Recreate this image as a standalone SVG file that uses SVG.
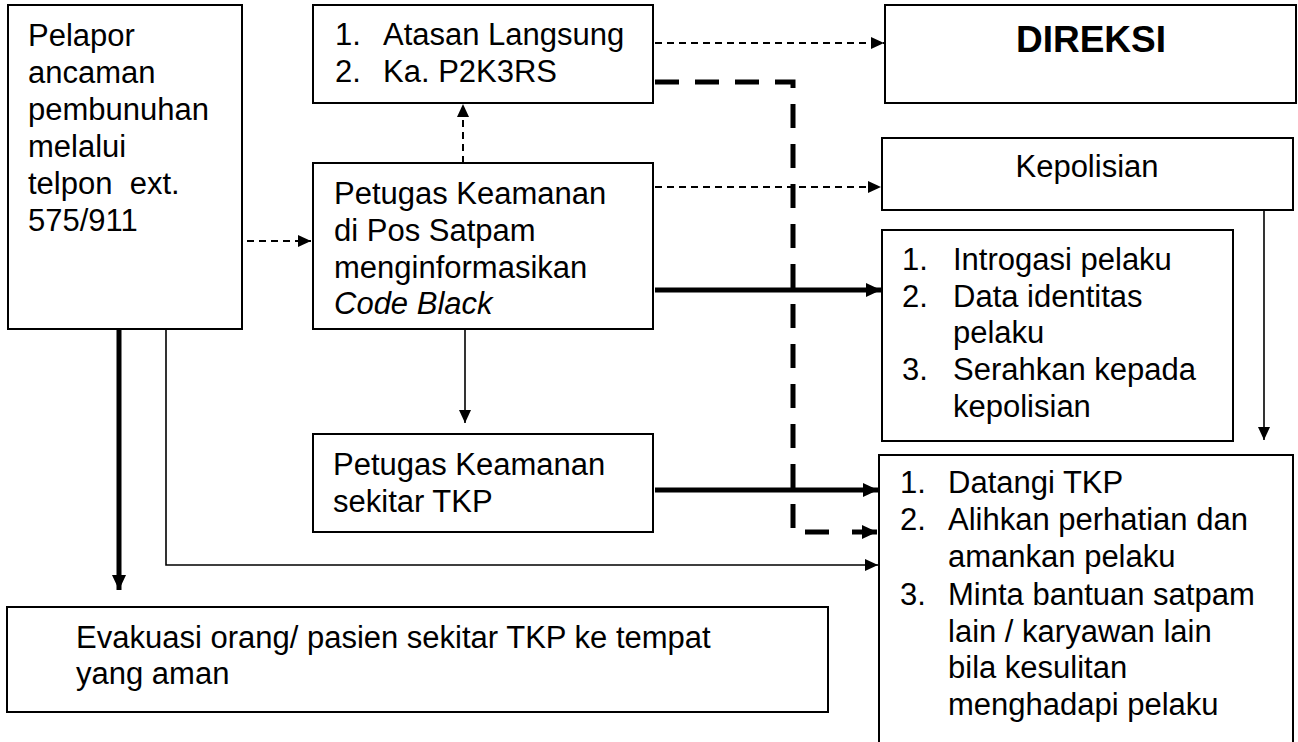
<svg xmlns="http://www.w3.org/2000/svg" width="1298" height="742" viewBox="0 0 1298 742">
<style>
.box{fill:#fff;stroke:#000;stroke-width:2}
.t{font-family:"Liberation Sans",Arial,sans-serif;font-size:31px;fill:#000}
.b{font-weight:bold;font-size:37px}
.c{text-anchor:middle}
.i{font-style:italic}
.thin{fill:none;stroke:#000;stroke-width:1.6}
.dash{fill:none;stroke:#000;stroke-width:2;stroke-dasharray:7 5}
.thick{fill:none;stroke:#000;stroke-width:5}
.tdash{fill:none;stroke:#000;stroke-width:5;stroke-dasharray:24 16}
</style>
<defs>
<marker id="a" markerUnits="userSpaceOnUse" markerWidth="14" markerHeight="12" refX="13" refY="6" orient="auto"><path d="M0,0 L13,6 L0,12 z" fill="#000"/></marker>
<marker id="ab" markerUnits="userSpaceOnUse" markerWidth="16" markerHeight="14" refX="15" refY="7" orient="auto"><path d="M0,0 L15,7 L0,14 z" fill="#000"/></marker>
</defs>
<rect width="1298" height="742" fill="#fff"/>

<g id="connectors">
<path class="dash" d="M247,241 H311" marker-end="url(#a)"/>
<path class="dash" d="M463,163 V104" marker-end="url(#a)"/>
<path class="dash" d="M655,43 H884" marker-end="url(#a)"/>
<path class="dash" d="M655,187 H881" marker-end="url(#a)"/>
<path class="tdash" d="M655,82 H793 V532 H845"/>
<path class="thick" d="M852,532 H877" marker-end="url(#ab)"/>
<path class="thick" d="M655,290 H881" marker-end="url(#ab)"/>
<path class="thick" d="M655,490 H878" marker-end="url(#ab)"/>
<path class="thick" d="M119,330 V590" marker-end="url(#ab)"/>
<path class="thin" d="M166,330 V565 H878" marker-end="url(#a)"/>
<path class="thin" d="M465,330 V423" marker-end="url(#a)"/>
<path class="thin" d="M1264,211 V440" marker-end="url(#a)"/>
</g>

<g id="pelapor">
<rect class="box" x="8" y="5" width="234" height="324"/>
<text class="t" x="28" y="46">Pelapor</text>
<text class="t" x="28" y="83">ancaman</text>
<text class="t" x="28" y="120">pembunuhan</text>
<text class="t" x="28" y="157">melalui</text>
<text class="t" x="28" y="194" xml:space="preserve">telpon  ext.</text>
<text class="t" x="28" y="231">575/911</text>
</g>

<g id="atasan">
<rect class="box" x="313" y="5" width="340" height="98"/>
<text class="t" x="335" y="45">1.</text><text class="t" x="383" y="45">Atasan Langsung</text>
<text class="t" x="335" y="82">2.</text><text class="t" x="383" y="82">Ka. P2K3RS</text>
</g>

<g id="direksi">
<rect class="box" x="885" y="5" width="411" height="98"/>
<text class="t b c" x="1091" y="52">DIREKSI</text>
</g>

<g id="petugas-pos">
<rect class="box" x="313" y="163" width="340" height="166"/>
<text class="t" x="334" y="204">Petugas Keamanan</text>
<text class="t" x="334" y="241">di Pos Satpam</text>
<text class="t" x="334" y="278">menginformasikan</text>
<text class="t i" x="334" y="314">Code Black</text>
</g>

<g id="kepolisian">
<rect class="box" x="882" y="138" width="411" height="72"/>
<text class="t c" x="1087" y="177">Kepolisian</text>
</g>

<g id="introgasi">
<rect class="box" x="882" y="230" width="351" height="211"/>
<text class="t" x="902" y="270">1.</text><text class="t" x="953" y="270">Introgasi pelaku</text>
<text class="t" x="902" y="307">2.</text><text class="t" x="953" y="307">Data identitas</text>
<text class="t" x="953" y="343">pelaku</text>
<text class="t" x="902" y="380">3.</text><text class="t" x="953" y="380">Serahkan kepada</text>
<text class="t" x="953" y="417">kepolisian</text>
</g>

<g id="petugas-tkp">
<rect class="box" x="313" y="434" width="340" height="98"/>
<text class="t" x="333" y="475">Petugas Keamanan</text>
<text class="t" x="333" y="512">sekitar TKP</text>
</g>

<g id="tindakan">
<path class="box" d="M879,760 V455 H1293 V760"/>
<text class="t" x="900" y="493">1.</text><text class="t" x="948" y="493">Datangi TKP</text>
<text class="t" x="900" y="530">2.</text><text class="t" x="948" y="530">Alihkan perhatian dan</text>
<text class="t" x="948" y="567">amankan pelaku</text>
<text class="t" x="900" y="605">3.</text><text class="t" x="948" y="605">Minta bantuan satpam</text>
<text class="t" x="948" y="642">lain / karyawan lain</text>
<text class="t" x="948" y="678">bila kesulitan</text>
<text class="t" x="948" y="715">menghadapi pelaku</text>
</g>

<g id="evakuasi">
<rect class="box" x="7" y="607" width="821" height="105"/>
<text class="t" x="76" y="648">Evakuasi orang/ pasien sekitar TKP ke tempat</text>
<text class="t" x="76" y="684">yang aman</text>
</g>
</svg>
